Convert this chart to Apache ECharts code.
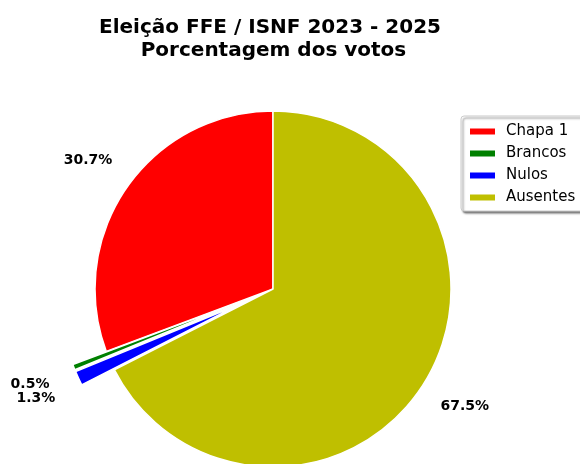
<!DOCTYPE html>
<html>
<head>
<meta charset="utf-8">
<script src="https://cdn.jsdelivr.net/npm/echarts@6/dist/echarts.min.js"></script>
<style>html,body{margin:0;padding:0;background:#fff}#c{width:580px;height:464px}</style>
</head>
<body>
<div id="c"></div>
<script>
const categories = ['Chapa 1', 'Brancos', 'Nulos', 'Ausentes'];
const values = [30.7, 0.5, 1.3, 67.5];
const exploded = [false, true, true, false];
const colors = ['#ff0000', '#008000', '#0000ff', '#bfbf00'];
const titleText = 'Eleição FFE / ISNF 2023 - 2025\n Porcentagem dos votos';

const font = 'DejaVu Sans';
const chart = echarts.init(document.getElementById('c'), null, {renderer: 'canvas'});
const mainData = categories.map((n, i) => ({name: n, value: values[i], selected: exploded[i], itemStyle: {color: colors[i]}}));
const labelData = categories.map((n, i) => ({name: n, value: values[i], selected: exploded[i]}));

chart.setOption({
  animation: false,
  backgroundColor: '#ffffff',
  title: {
    text: titleText,
    left: 265, top: 11, textAlign: 'center',
    textStyle: {fontFamily: font, fontSize: 20, fontWeight: 'bold', color: '#000', lineHeight: 23}
  },
  legend: {
    orient: 'vertical', left: 461, top: 116,
    data: categories,
    itemWidth: 27, itemHeight: 8, itemGap: 5,
    padding: [7, 8, 5, 7],
    icon: 'rect',
    backgroundColor: '#fff',
    borderColor: '#cccccc', borderWidth: 1, borderRadius: 3,
    shadowColor: 'rgba(0,0,0,0.5)', shadowOffsetX: 2, shadowOffsetY: 2, shadowBlur: 2,
    textStyle: {fontFamily: font, fontSize: 15, color: '#000', padding: [0,0,0,5], lineHeight: 17},
    selectedMode: false
  },
  series: [
    {
      type: 'pie', name: 'votos',
      center: [273, 289], radius: 178,
      startAngle: 90, clockwise: false,
      selectedMode: 'multiple', selectedOffset: 36,
      data: mainData,
      label: {show: false}, labelLine: {show: false},
      itemStyle: {borderColor: '#fff', borderWidth: 1.5},
      emphasis: {disabled: true},
      silent: true
    },
    {
      type: 'pie', name: 'labels',
      center: [273, 289], radius: [212, 232],
      startAngle: 90, clockwise: false,
      selectedMode: 'multiple', selectedOffset: 36,
      avoidLabelOverlap: false,
      labelLayout: {hideOverlap: false},
      data: labelData,
      itemStyle: {color: 'rgba(0,0,0,0)', borderWidth: 0},
      label: {
        show: true, position: 'inside',
        formatter: p => p.value.toFixed(1) + '%',
        fontFamily: font, fontSize: 14, fontWeight: 'bold', color: '#000'
      },
      labelLine: {show: false},
      emphasis: {disabled: true},
      silent: true
    }
  ]
});
</script>
</body>
</html>
